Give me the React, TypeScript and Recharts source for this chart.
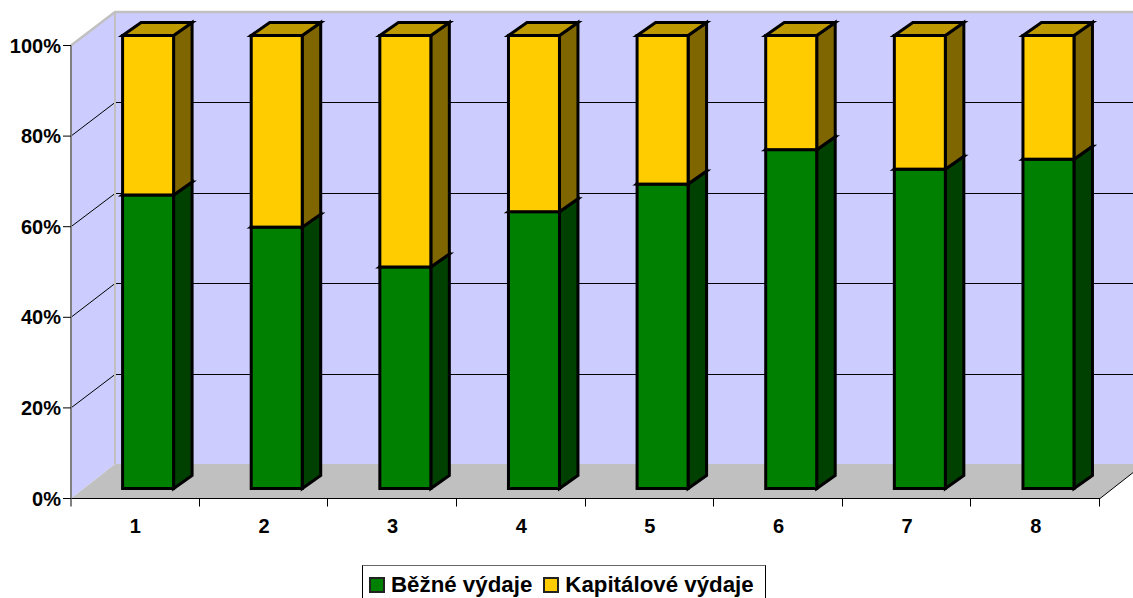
import { BarChart, Bar, XAxis, YAxis, Legend, Customized } from 'recharts';

const CATEGORIES = ['1', '2', '3', '4', '5', '6', '7', '8'];
const BEZNE = [64.8, 57.7, 48.9, 61.1, 67.2, 74.8, 70.5, 72.7];
const KAPITALOVE = [35.2, 42.3, 51.1, 38.9, 32.8, 25.2, 29.5, 27.3];
const Y_TICKS = [0, 20, 40, 60, 80, 100];

const data = CATEGORIES.map((name, i) => ({ name, bezne: BEZNE[i], kapitalove: KAPITALOVE[i] }));

const WIDTH = 1133;
const HEIGHT = 598;
const LEFT = 71;
const RIGHT = 1100;
const TOP = 45.5;
const BOTTOM = 498.5;
const FONT = '"Liberation Sans", Arial, sans-serif';

// 3D look: wall depth and bar depth
const WALL_DX = 44;
const WALL_DY = 33.5;
const BAR_SHIFT_X = 13;
const BAR_SHIFT_Y = 10;
const BAR_DX = 18.5;
const BAR_DY = 13;

function Walls() {
  const bandW = (RIGHT - LEFT) / CATEGORIES.length;
  const backX = LEFT + WALL_DX;
  const backTop = 12;
  const backBottom = 464;
  const far = WIDTH + 20;
  const plotH = BOTTOM - TOP;

  return (
    <g>
      <polygon
        points={`${LEFT},${TOP} ${backX},${backTop} ${far},${backTop} ${far},${backBottom} ${backX},${backBottom} ${LEFT},${BOTTOM}`}
        fill="#ccccff"
      />
      <polygon
        points={`${LEFT},${BOTTOM} ${backX},${backBottom} ${RIGHT + WALL_DX},${backBottom} ${RIGHT},${BOTTOM}`}
        fill="#c0c0c0"
      />
      {Y_TICKS.filter((t) => t > 0 && t < 100).map((t) => {
        const y = BOTTOM - (plotH * t) / 100;
        const backY = Math.round(y - WALL_DY - 0.5) + 0.5;
        return (
          <polyline
            key={t}
            points={`${LEFT},${y} ${backX},${backY} ${far},${backY}`}
            fill="none"
            stroke="#000"
            strokeWidth={1}
          />
        );
      })}
      <polyline
        points={`${LEFT},${TOP} ${backX},${backTop} ${far},${backTop}`}
        fill="none"
        stroke="#c0c0c0"
        strokeWidth={2.5}
      />
      <line x1={backX} y1={backTop} x2={backX} y2={backBottom} stroke="#c0c0c0" strokeWidth={2} />
      <line x1={RIGHT} y1={BOTTOM} x2={RIGHT + WALL_DX} y2={backBottom} stroke="#000" strokeWidth={1} />
      {CATEGORIES.map((_, i) => (
        <line
          key={i}
          x1={Math.round(LEFT + bandW * (i + 1)) - 0.5}
          y1={BOTTOM}
          x2={Math.round(LEFT + bandW * (i + 1)) - 0.5}
          y2={BOTTOM + 8}
          stroke="#000"
          strokeWidth={1}
        />
      ))}
      <line x1={LEFT} y1={BOTTOM} x2={LEFT} y2={BOTTOM + 8} stroke="#808080" strokeWidth={2} />
    </g>
  );
}

function box(front: string, side: string, top: string) {
  return (props: any) => {
    const x = props.x + BAR_SHIFT_X;
    const y = props.y - BAR_SHIFT_Y;
    const w = props.width;
    const h = props.height;
    const stroke = { stroke: '#000', strokeWidth: 3 };
    return (
      <g>
        <polygon
          points={`${x + w},${y} ${x + w + BAR_DX},${y - BAR_DY} ${x + w + BAR_DX},${y + h - BAR_DY} ${x + w},${y + h}`}
          fill={side}
          {...stroke}
        />
        <polygon
          points={`${x},${y} ${x + BAR_DX},${y - BAR_DY} ${x + w + BAR_DX},${y - BAR_DY} ${x + w},${y}`}
          fill={top}
          {...stroke}
        />
        <rect x={x} y={y} width={w} height={h} fill={front} {...stroke} />
      </g>
    );
  };
}

function LegendBox({ payload }: any) {
  return (
    <div
      style={{
        display: 'flex',
        alignItems: 'center',
        boxSizing: 'border-box',
        width: 404,
        height: 44,
        paddingLeft: 6,
        paddingBottom: 4,
        background: '#fff',
        border: '1px solid #000',
        borderTopColor: '#666',
        fontFamily: FONT,
        fontWeight: 'bold',
        fontSize: 22.3,
        color: '#000',
        whiteSpace: 'nowrap',
      }}
    >
      {(payload || []).map((p: any) => (
        <span key={p.value} style={{ display: 'flex', alignItems: 'center', marginRight: 11 }}>
          <span
            style={{
              display: 'inline-block',
              boxSizing: 'border-box',
              width: 16,
              height: 16,
              marginRight: 6,
              background: p.color,
              border: '2px solid #222',
            }}
          />
          {p.value}
        </span>
      ))}
    </div>
  );
}

export default function App() {
  const tickStyle = { fontFamily: FONT, fontWeight: 'bold', fontSize: 20, fill: '#000' };
  return (
    <div style={{ position: 'absolute', left: 0, top: 0, width: WIDTH, height: HEIGHT, overflow: 'hidden', background: '#fff' }}>
      <BarChart
        width={WIDTH}
        height={HEIGHT}
        data={data}
        margin={{ top: TOP, right: WIDTH - RIGHT, bottom: 30, left: 0 }}
        barCategoryGap="30%"
      >
        <Customized component={<Walls />} />
        <XAxis
          dataKey="name"
          height={HEIGHT - BOTTOM - 30 - 30}
          tickLine={false}
          axisLine={{ stroke: '#000', strokeWidth: 1 }}
          tick={tickStyle}
          tickMargin={14}
        />
        <YAxis
          width={LEFT}
          domain={[0, 100]}
          ticks={Y_TICKS}
          tickFormatter={(v) => `${v}%`}
          tickSize={8}
          tickMargin={2}
          tickLine={{ stroke: '#000', strokeWidth: 1 }}
          axisLine={{ stroke: '#808080', strokeWidth: 2 }}
          tick={tickStyle}
        />
        <Bar
          dataKey="bezne"
          name="Běžné výdaje"
          stackId="a"
          fill="#008000"
          isAnimationActive={false}
          shape={box('#008000', '#004000', '#006000')}
        />
        <Bar
          dataKey="kapitalove"
          name="Kapitálové výdaje"
          stackId="a"
          fill="#ffcc00"
          isAnimationActive={false}
          shape={box('#ffcc00', '#806600', '#bf9900')}
        />
        <Legend
          height={30}
          content={<LegendBox />}
          wrapperStyle={{ left: 362, top: 565, width: 404 }}
        />
      </BarChart>
    </div>
  );
}
